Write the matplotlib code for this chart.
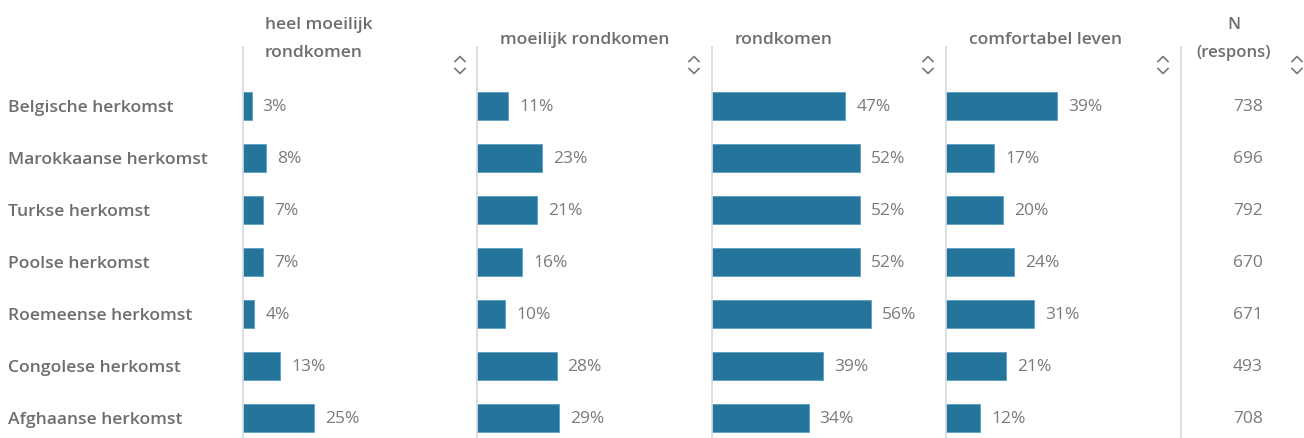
import numpy as np
import matplotlib.pyplot as plt

plt.rcParams['font.family'] = ['Open Sans', 'DejaVu Sans']

groups = ["Belgische herkomst", "Marokkaanse herkomst", "Turkse herkomst",
          "Poolse herkomst", "Roemeense herkomst", "Congolese herkomst",
          "Afghaanse herkomst"]
columns = ["heel moeilijk\nrondkomen", "moeilijk rondkomen", "rondkomen",
           "comfortabel leven"]
heel_moeilijk = [3, 8, 7, 7, 4, 13, 25]
moeilijk = [11, 23, 21, 16, 10, 28, 29]
rondkomen = [47, 52, 52, 52, 56, 39, 34]
comfortabel = [39, 17, 20, 24, 31, 21, 12]
n_respons = [738, 696, 792, 670, 671, 493, 708]

W, H = 1304, 439
bar_color = "#24749b"
text_color = "#6e6e6e"
val_color = "#7a7a7a"
line_color = "#d3d7db"

fig = plt.figure(figsize=(W / 100, H / 100), dpi=100)

col_left = [243, 477, 712, 946]
col_w = 234
top, bottom = 48, 439
y = np.arange(len(groups))

def fx(px):
    return px / W

def fy(py):
    return 1 - py / H

series = [heel_moeilijk, moeilijk, rondkomen, comfortabel]
for k, vals in enumerate(series):
    ax = fig.add_axes([fx(col_left[k]), fy(bottom), fx(col_w), (bottom - top) / H])
    ax.barh(y, vals, height=0.55, color=bar_color, edgecolor="#5c9fc0", linewidth=0.6)
    for yi, v in zip(y, vals):
        ax.text(v + 3.9, yi, f"{v}%", va="center", ha="left", fontsize=12.5,
                color=val_color)
    ax.set_xlim(0, col_w / 2.84)
    ax.set_ylim(6.385, -1.135)
    for s in ["top", "right", "bottom"]:
        ax.spines[s].set_visible(False)
    ax.spines["left"].set_color(line_color)
    ax.spines["left"].set_linewidth(1.2)
    ax.set_xticks([])
    ax.set_yticks([])
    ax.patch.set_alpha(0)

# N column
axn = fig.add_axes([fx(1181), fy(bottom), fx(W - 1181), (bottom - top) / H])
for yi, n in zip(y, n_respons):
    axn.text(fx(1248 - 1181) * W / (W - 1181), yi, str(n), va="center", ha="center",
             fontsize=12.5, color=val_color, transform=axn.get_yaxis_transform())
axn.set_ylim(6.385, -1.135)
axn.set_xlim(0, 1)
for s in ["top", "right", "bottom"]:
    axn.spines[s].set_visible(False)
axn.spines["left"].set_color(line_color)
axn.spines["left"].set_linewidth(1.2)
axn.set_xticks([])
axn.set_yticks([])
axn.patch.set_alpha(0)

# row labels
for yi, g in zip(y, groups):
    fig.text(fx(8), fy(108 + 52 * yi), g, va="center", ha="left", fontsize=12.6,
             fontweight="semibold", color=text_color)

# headers
fig.text(fx(265), fy(39), columns[0], va="center", ha="left", fontsize=12.6,
         fontweight="semibold", color=text_color, linespacing=2.05)
for k in range(1, 4):
    fig.text(fx(col_left[k] + 23), fy(40), columns[k], va="center", ha="left",
             fontsize=12.6, fontweight="semibold", color=text_color)
fig.text(fx(1234), fy(39), "N\n(respons)", va="center", ha="center", fontsize=12,
         fontweight="semibold", color=text_color, linespacing=2.0)

# sort icons
for cx in [460, 694, 928, 1163, 1297]:
    for sgn in (1, -1):
        yc = 66 - sgn * 6
        xs = [fx(cx - 5), fx(cx), fx(cx + 5)]
        ys = [fy(yc + sgn * 2.5), fy(yc - sgn * 2.5), fy(yc + sgn * 2.5)]
        fig.add_artist(plt.Line2D(xs, ys, color="#777777", lw=1.2))

fig.savefig("out.png", dpi=100)
